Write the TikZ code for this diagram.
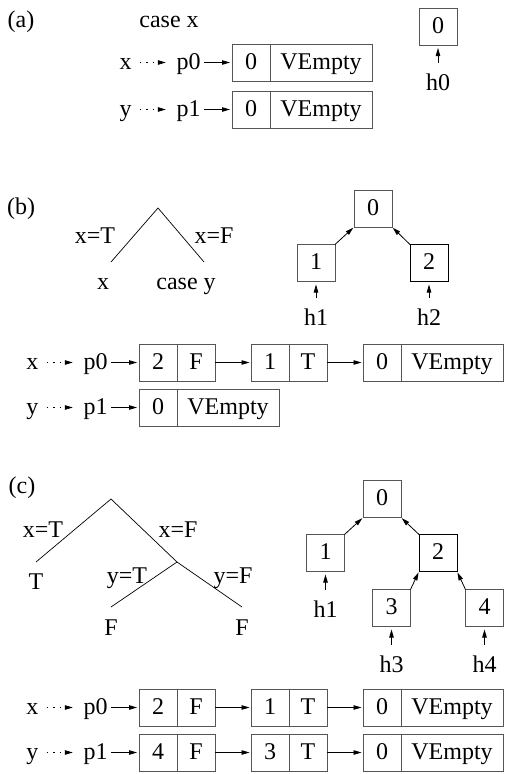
\documentclass[tikz,border=0pt]{standalone}
\usepackage{fontspec}
\setmainfont{Liberation Serif}
\usetikzlibrary{arrows.meta}
\definecolor{boxline}{HTML}{555555}

\begin{document}
\begin{tikzpicture}[x=1pt, y=-1pt,
  font=\fontsize{24}{29}\selectfont,
  lbl/.style={inner sep=0pt, text height=17pt, text depth=4pt},
  cell/.style={lbl, draw=boxline, line width=0.8pt, outer sep=0pt, minimum width=38pt, minimum height=37pt},
  wide/.style={cell, minimum width=102pt},
  ptr/.style={-{Triangle[length=8pt, width=4.5pt]}, line width=0.8pt},
  dptr/.style={ptr, dash pattern=on 1.5pt off 5pt, shorten <=8pt, shorten >=10.5pt},
  hptr/.style={ptr, shorten <=10pt, shorten >=3pt},
  branch/.style={line width=0.7pt}]

\useasboundingbox (0,0) rectangle (504,774);

% (a) ------------------------------------------------------------
\node[lbl] (taga) at (21,20.5) {(a)};
\node[lbl] (casex) at (169,20.5) {case x};

% Heap
\node[cell] (a0) at (438,26.5) {0};
\node[lbl] (ah0) at (438,83.5) {h0};
\draw[hptr] (ah0) -- (a0);

% Pointers
\node[lbl] (ax) at (125.5,62.5) {x};
\node[lbl] (ap0) at (188.5,62.5) {p0};
\node[cell, anchor=west] (ap0-a) at (232,62.5) {0};
\node[wide, anchor=west] (ap0-b) at (ap0-a.east) {VEmpty};
\draw[dptr] (ax) -- (ap0);
\draw[ptr, shorten <=3.5pt, shorten >=2pt] (ap0) -- (ap0-a);

\node[lbl] (ay) at (125.5,109.5) {y};
\node[lbl] (ap1) at (188.5,109.5) {p1};
\node[cell, anchor=west] (ap1-a) at (232,109.5) {0};
\node[wide, anchor=west] (ap1-b) at (ap1-a.east) {VEmpty};
\draw[dptr] (ay) -- (ap1);
\draw[ptr, shorten <=3.5pt, shorten >=2pt] (ap1) -- (ap1-a);

% (b) ------------------------------------------------------------
\node[lbl] (tagb) at (21,208) {(b)};

% Decision tree
\coordinate (bt) at (158,208);
\coordinate (btl) at (111,262);
\coordinate (btr) at (204,262);
\draw[branch] (btl) -- (bt) -- (btr);
\node[lbl] (bxt) at (95,236.5) {x=T};
\node[lbl] (bxf) at (214,236.5) {x=F};
\node[lbl] (bx) at (103,282.5) {x};
\node[lbl] (bcasey) at (186,282.5) {case y};

% Heap
\node[cell] (b0) at (373,208.5) {0};
\node[cell] (b1) at (316,263) {1};
\node[cell, draw=black] (b2) at (429,263) {2};
\draw[ptr, shorten >=1pt] (b1.north east) -- (b0.south west);
\draw[ptr, shorten >=1pt] (b2.north west) -- (b0.south east);
\node[lbl] (bh1) at (316,318.5) {h1};
\node[lbl] (bh2) at (429,318.5) {h2};
\draw[hptr] (bh1) -- (b1);
\draw[hptr] (bh2) -- (b2);

% Pointer p1
\node[lbl] (by) at (32.5,407.5) {y};
\node[lbl] (bp1) at (95.5,407.5) {p1};
\node[cell, anchor=west] (bp1-a) at (139,407.5) {0};
\node[wide, anchor=west] (bp1-b) at (bp1-a.east) {VEmpty};
\draw[dptr] (by) -- (bp1);
\draw[ptr, shorten <=3.5pt, shorten >=2pt] (bp1) -- (bp1-a);

% (c) ------------------------------------------------------------
\node[lbl] (tagc) at (22,487) {(c)};

% Decision tree
\coordinate (ct) at (111,499);
\coordinate (ctl) at (36,562);
\coordinate (cty) at (177,562);
\coordinate (ctyl) at (111,607);
\coordinate (ctyr) at (242,607);
\draw[branch] (ctl) -- (ct) -- (cty);
\draw[branch] (ctyl) -- (cty) -- (ctyr);
\node[lbl] (cxt) at (43,530.5) {x=T};
\node[lbl] (cxf) at (178,530.5) {x=F};
\node[lbl] (cT) at (36,582.5) {T};
\node[lbl] (cyt) at (127,576.5) {y=T};
\node[lbl] (cyf) at (233,576.5) {y=F};
\node[lbl] (cFl) at (111,628.5) {F};
\node[lbl] (cFr) at (242,628.5) {F};

% Heap
\node[cell] (c0) at (382,499) {0};
\node[cell] (c1) at (325.5,553) {1};
\node[cell, draw=black] (c2) at (438,553) {2};
\node[cell] (c3) at (391.5,608) {3};
\node[cell] (c4) at (484.5,608) {4};
\draw[ptr, shorten >=1pt] (c1.north east) -- (c0.south west);
\draw[ptr, shorten >=1pt] (c2.north west) -- (c0.south east);
\draw[ptr, shorten >=1pt] (c3.north east) -- (c2.south west);
\draw[ptr, shorten >=1pt] (c4.north west) -- (c2.south east);
\node[lbl] (ch1) at (325.5,610.5) {h1};
\node[lbl] (ch3) at (391.5,665.5) {h3};
\node[lbl] (ch4) at (484.5,665.5) {h4};
\draw[hptr] (ch1) -- (c1);
\draw[hptr] (ch3) -- (c3);
\draw[hptr] (ch4) -- (c4);

% Chains of (b) and (c)
\foreach \vname/\pname/\yy/\hi/\lo [count=\i] in {x/p0/362.5/2/1, x/p0/707.5/2/1, y/p1/752.5/4/3} {
  \node[lbl] (v\i) at (32.5,\yy) {\vname};
  \node[lbl] (p\i) at (95.5,\yy) {\pname};
  \node[cell, anchor=west] (k\i-a) at (139,\yy) {\hi};
  \node[cell, anchor=west] (k\i-b) at (k\i-a.east) {F};
  \node[cell, anchor=west] (k\i-c) at (251,\yy) {\lo};
  \node[cell, anchor=west] (k\i-d) at (k\i-c.east) {T};
  \node[cell, anchor=west] (k\i-e) at (363,\yy) {0};
  \node[wide, anchor=west] (k\i-f) at (k\i-e.east) {VEmpty};
  \draw[dptr] (v\i) -- (p\i);
  \draw[ptr, shorten <=3.5pt, shorten >=2pt] (p\i) -- (k\i-a);
  \draw[ptr, shorten >=1.5pt] (k\i-b) -- (k\i-c);
  \draw[ptr, shorten >=1.5pt] (k\i-d) -- (k\i-e);
}

\end{tikzpicture}
\end{document}
